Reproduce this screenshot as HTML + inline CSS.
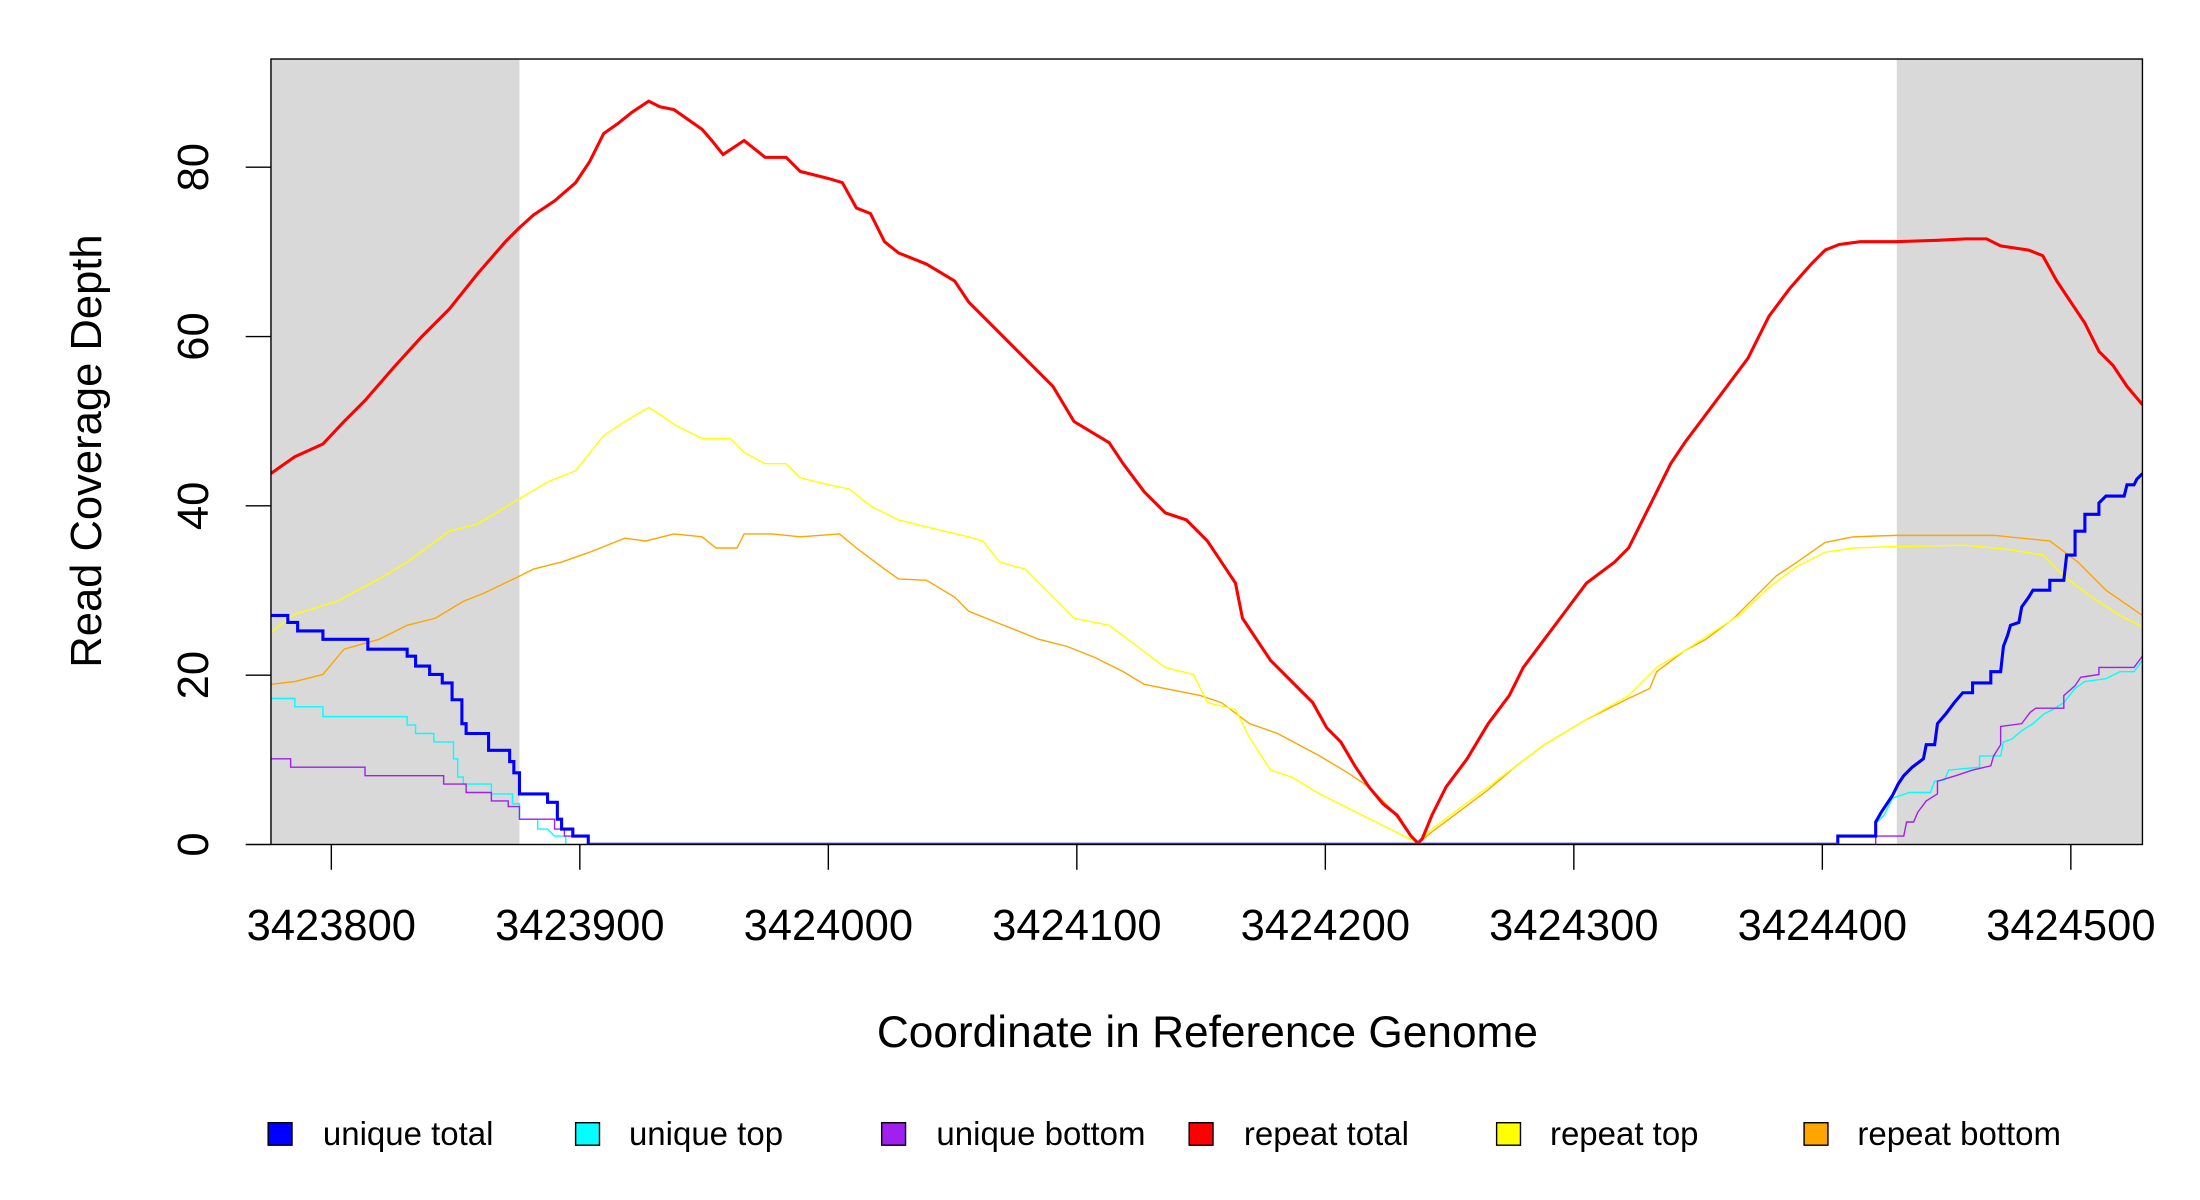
<!DOCTYPE html>
<html><head><meta charset="utf-8"><style>
html,body{margin:0;padding:0;background:#fff;}
svg{display:block;}
text{font-family:"Liberation Sans",Arial,sans-serif;fill:#000;}
</style></head><body>
<svg width="2200" height="1200" viewBox="0 0 1567 854" preserveAspectRatio="none" xmlns="http://www.w3.org/2000/svg">
<defs><clipPath id="c"><rect x="193" y="42" width="1333" height="559"/></clipPath></defs>
<rect x="193" y="42" width="177" height="559" fill="#d9d9d9"/>
<rect x="1351" y="42" width="175" height="559" fill="#d9d9d9"/>
<g clip-path="url(#c)" fill="none" stroke-linejoin="miter">
<polyline stroke="#FFA500" stroke-width="1" points="193,487 210,485 230,480 245,462 270,455 290,445 310,440 330,428 345,422 370,410 380,405 400,400 420,393 445,383 460,385 480,380 500,382 510,390 525,390 530,380 550,380 570,382 598,380 610,390 630,405 640,412 660,413 680,425 690,435 720,447 740,455 760,460 780,468 800,478 815,487 830,490 855,495 870,500 890,515 910,522 925,530 940,538 960,550 975,560 990,575 1005,595 1010,600 1020,592 1040,577 1060,562 1080,545 1100,530 1130,512 1160,497 1175,490 1180,478 1200,463 1215,455 1235,440 1250,425 1265,410 1280,400 1300,386 1320,382 1350,381 1380,381 1420,381 1440,383 1460,385 1480,400 1500,420 1526,438"/>
<polyline stroke="#FFFF00" stroke-width="1" points="193,450 210,437 240,428 270,412 290,400 320,378 340,373 370,355 390,343 410,335 430,310 445,300 462,290 470,295 480,302 500,312 520,312 530,322 545,330 560,330 570,340 590,345 605,348 620,360 640,370 660,375 690,382 700,385 712,400 730,405 750,425 765,440 790,445 810,460 830,475 850,480 860,500 880,505 890,525 905,548 920,553 940,565 960,575 980,585 1000,595 1010,600 1020,590 1040,575 1060,560 1080,545 1100,530 1130,512 1160,495 1170,485 1180,475 1200,463 1220,450 1240,437 1260,418 1280,403 1300,393 1320,390 1350,389 1400,388 1430,391 1455,395 1470,410 1490,425 1510,438 1526,446"/>
<polyline stroke="#FF0000" stroke-width="2.2" points="193,337 200,332 210,325 230,316 245,300 260,285 280,262 300,240 320,220 340,195 360,172 370,162 380,153 395,143 410,130 420,115 430,95 440,88 450,80 462,72 470,76 480,78 490,85 500,92 507,100 515,110 530,100 545,112 560,112 570,122 590,127 600,130 610,148 620,152 630,172 640,180 660,188 680,200 690,215 705,230 715,240 730,255 750,275 765,300 790,315 800,330 815,350 830,365 845,370 860,385 870,400 880,415 885,440 895,455 905,470 920,485 935,500 945,518 955,528 965,545 975,560 985,572 995,580 1005,595 1010,600 1013,597 1020,580 1030,560 1045,540 1060,515 1075,495 1085,475 1100,455 1115,435 1130,415 1150,400 1160,390 1170,370 1180,350 1190,330 1200,315 1215,295 1230,275 1245,255 1260,225 1275,205 1290,188 1300,178 1310,174 1325,172 1350,172 1380,171 1400,170 1415,170 1425,175 1445,178 1455,182 1465,200 1475,215 1485,230 1495,250 1505,260 1515,275 1526,288"/>
<polyline stroke="#00FFFF" stroke-width="1" points="193,497 210,497 210,503 230,503 230,510 290,510 290,516 296,516 296,522 309,522 309,528 323,528 323,540 326,540 326,553 330,553 330,558 350,558 350,565 365,565 365,572 370,572 370,583 383,583 383,590 390,590 395,595 403,595 403,601 1309,601 1309,595 1336,595 1336,586 1342,580 1348,568 1360,564 1375,564 1378,556 1385,555 1388,548 1410,546 1410,538 1425,538 1427,528 1433,526 1440,520 1448,515 1456,508 1462,505 1470,500 1478,490 1485,485 1500,483 1510,478 1520,478 1526,470"/>
<polyline stroke="#A020F0" stroke-width="1" points="193,540 207,540 207,546 260,546 260,552 316,552 316,558 332,558 332,564 350,564 350,570 362,570 362,574 370,574 370,583 395,583 395,590 402,590 402,595 419,595 419,601 1336,601 1336,595 1356,595 1358,585 1363,585 1366,578 1372,570 1380,565 1380,556 1393,552 1405,548 1418,545 1420,538 1425,530 1425,517 1440,515 1446,507 1450,504 1470,504 1470,495 1478,488 1482,482 1495,480 1495,475 1520,475 1526,467"/>
<polyline stroke="#0000FF" stroke-width="2.2" points="193,438 205,438 205,443 212,443 212,449 230,449 230,455 262,455 262,462 290,462 290,467 296,467 296,474 306,474 306,480 315,480 315,486 322,486 322,498 329,498 329,515 332,515 332,522 348,522 348,534 363,534 363,542 366,542 366,550 370,550 370,565 390,565 390,571 397,571 397,583 400,583 400,590 408,590 408,595 419,595 419,601 1309,601 1309,595 1336,595 1336,585 1340,578 1344,572 1348,566 1352,558 1356,552 1362,546 1370,540 1372,530 1378,530 1380,515 1386,508 1392,500 1398,493 1405,493 1405,486 1418,486 1418,478 1425,478 1427,460 1430,452 1432,445 1438,443 1440,432 1445,425 1448,420 1460,420 1460,413 1470,413 1472,395 1478,395 1478,378 1485,378 1485,366 1495,366 1495,358 1500,353 1513,353 1515,345 1520,345 1522,341 1526,337"/>
<line x1="420" y1="600.5" x2="1309" y2="600.5" stroke="#4a3af0" stroke-width="1.6"/>
</g>
<rect x="193" y="42" width="1333" height="559" fill="none" stroke="#000" stroke-width="1"/>
<g stroke="#000" stroke-width="1">
<line x1="175" y1="601" x2="193" y2="601"/><line x1="175" y1="480.5" x2="193" y2="480.5"/><line x1="175" y1="360" x2="193" y2="360"/><line x1="175" y1="239.5" x2="193" y2="239.5"/><line x1="175" y1="119" x2="193" y2="119"/>
<line x1="236" y1="601" x2="236" y2="619"/><line x1="413" y1="601" x2="413" y2="619"/><line x1="590" y1="601" x2="590" y2="619"/><line x1="767" y1="601" x2="767" y2="619"/><line x1="944" y1="601" x2="944" y2="619"/><line x1="1121" y1="601" x2="1121" y2="619"/><line x1="1298" y1="601" x2="1298" y2="619"/><line x1="1475" y1="601" x2="1475" y2="619"/>
</g>
<g font-size="31" text-anchor="middle">
<text transform="translate(148,601) rotate(-90)">0</text>
<text transform="translate(148,480.5) rotate(-90)">20</text>
<text transform="translate(148,360) rotate(-90)">40</text>
<text transform="translate(148,239.5) rotate(-90)">60</text>
<text transform="translate(148,119) rotate(-90)">80</text>
<text x="236" y="669">3423800</text><text x="413" y="669">3423900</text><text x="590" y="669">3424000</text><text x="767" y="669">3424100</text><text x="944" y="669">3424200</text><text x="1121" y="669">3424300</text><text x="1298" y="669">3424400</text><text x="1475" y="669">3424500</text>
<text x="860" y="745" font-size="31.5">Coordinate in Reference Genome</text>
<text transform="translate(72,321) rotate(-90)">Read Coverage Depth</text>
</g>
<g stroke="#000" stroke-width="1">
<rect x="191" y="799" width="17" height="16" fill="#0000FF"/>
<rect x="410" y="799" width="17" height="16" fill="#00FFFF"/>
<rect x="628" y="799" width="17" height="16" fill="#A020F0"/>
<rect x="847" y="799" width="17" height="16" fill="#FF0000"/>
<rect x="1066" y="799" width="17" height="16" fill="#FFFF00"/>
<rect x="1285" y="799" width="17" height="16" fill="#FFA500"/>
</g>
<g font-size="23.5">
<text x="230" y="815">unique total</text>
<text x="448" y="815">unique top</text>
<text x="667" y="815">unique bottom</text>
<text x="886" y="815">repeat total</text>
<text x="1104" y="815">repeat top</text>
<text x="1323" y="815">repeat bottom</text>
</g>
</svg>
</body></html>
